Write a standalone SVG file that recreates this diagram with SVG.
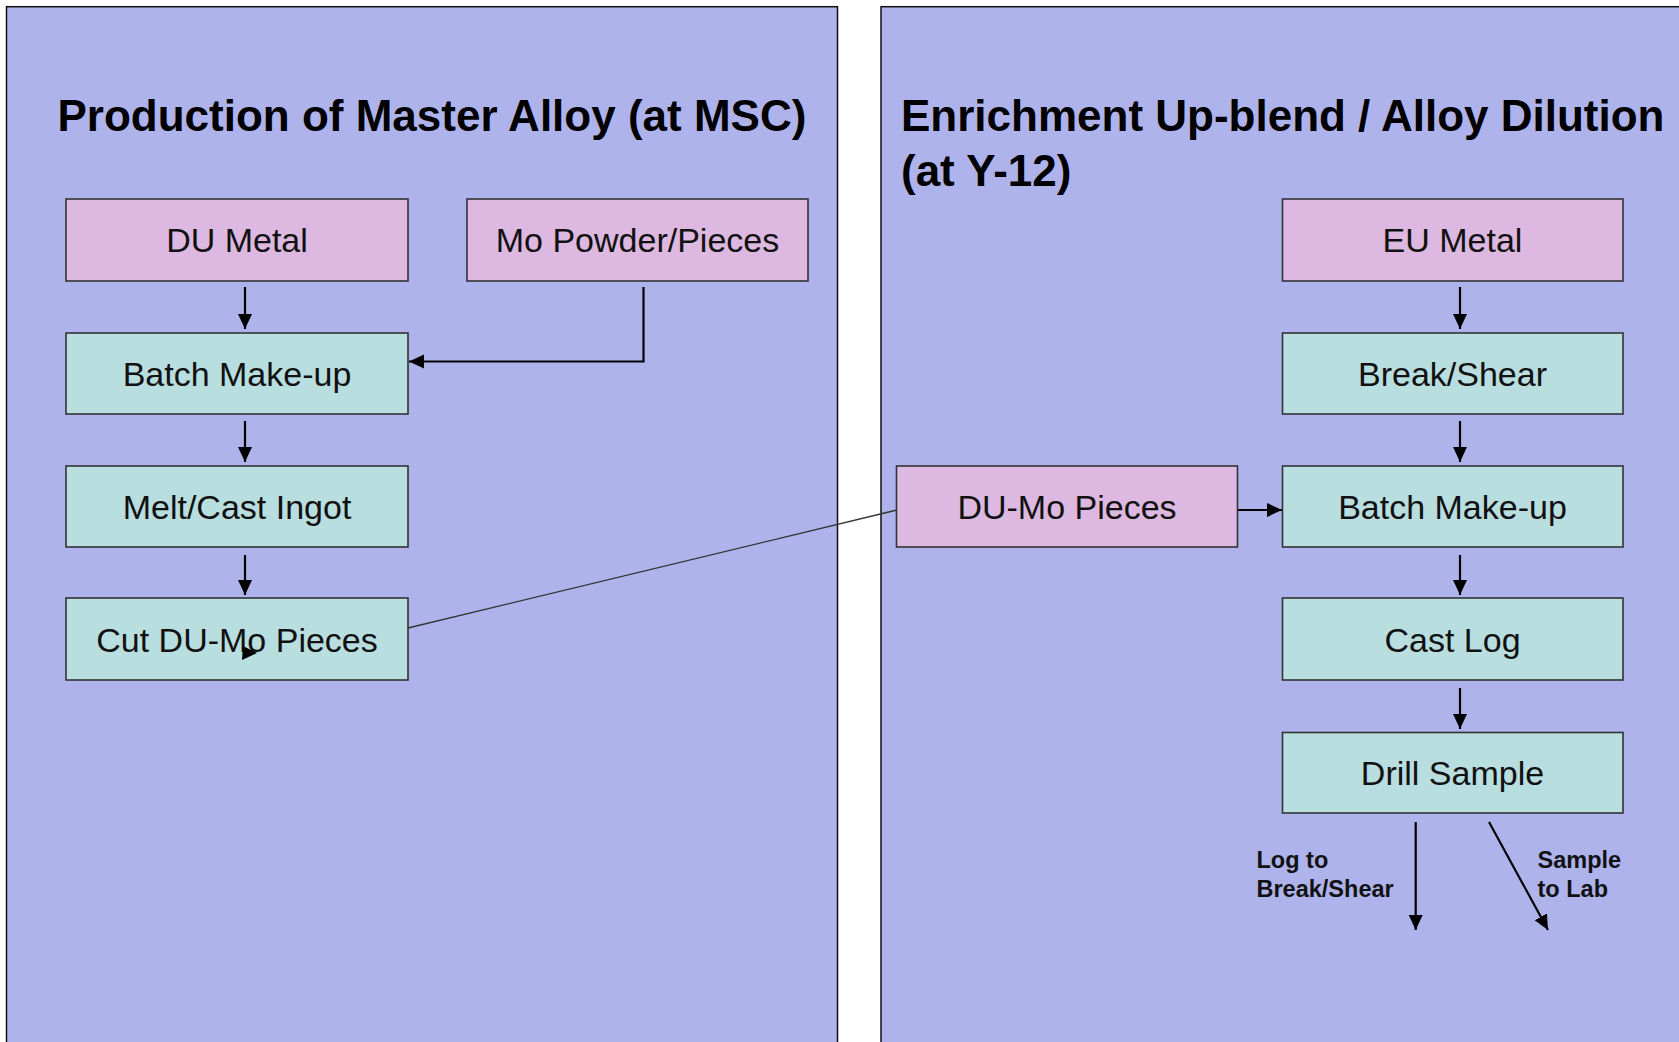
<svg xmlns="http://www.w3.org/2000/svg" width="1679" height="1042" viewBox="0 0 1679 1042">
<defs>
<style>
.panel{fill:#AEB3EC;stroke:#111;stroke-width:1.5}
.pink{fill:#DDB8E0;stroke:#333;stroke-width:1.6}
.teal{fill:#B8DEE0;stroke:#333;stroke-width:1.6}
.lbl{font-family:"Liberation Sans",Arial,sans-serif;font-size:34px;fill:#111;text-anchor:middle}
.title{font-family:"Liberation Sans",Arial,sans-serif;font-size:44px;font-weight:bold;fill:#000}
.small{font-family:"Liberation Sans",Arial,sans-serif;font-size:23.5px;font-weight:bold;fill:#111}
.arr{fill:none;stroke:#000;stroke-width:2.2;marker-end:url(#ah)}
.thin{fill:none;stroke:#333;stroke-width:1.3}
</style>
<marker id="ah" markerUnits="userSpaceOnUse" markerWidth="17" markerHeight="15" refX="15" refY="7" orient="auto">
<path d="M0,0 L15,7 L0,14 z" fill="#000"/>
</marker>
</defs>
<rect width="1679" height="1042" fill="#FFFFFF"/>
<g id="panel-left">
<rect class="panel" x="6.5" y="6.7" width="831" height="1050"/>
<text class="title" x="57.5" y="131">Production of Master Alloy (at MSC)</text>
</g>
<g id="panel-right">
<rect class="panel" x="881" y="6.7" width="820" height="1050"/>
<text class="title" x="901" y="131">Enrichment Up-blend / Alloy Dilution</text>
<text class="title" x="901" y="186">(at Y-12)</text>
</g>
<g id="connectors">
<line class="arr" x1="245" y1="287" x2="245" y2="329"/>
<polyline class="arr" points="643.5,287 643.5,361.5 409,361.5"/>
<line class="arr" x1="245" y1="421" x2="245" y2="462"/>
<line class="arr" x1="245" y1="555" x2="245" y2="595"/>
<line class="thin" x1="408" y1="628" x2="897" y2="510"/>
<line class="arr" x1="1460" y1="287" x2="1460" y2="329"/>
<line class="arr" x1="1460" y1="421" x2="1460" y2="462"/>
<line class="arr" x1="1238" y1="510" x2="1282" y2="510"/>
<line class="arr" x1="1460" y1="555" x2="1460" y2="595"/>
<line class="arr" x1="1460" y1="688" x2="1460" y2="729"/>
<line class="arr" x1="1415.7" y1="822" x2="1415.7" y2="930"/>
<line class="arr" x1="1489" y1="822" x2="1548" y2="930"/>
</g>
<g id="node-du-metal">
<rect class="pink" x="66" y="199" width="342" height="82"/>
<text class="lbl" x="237" y="252">DU Metal</text>
</g>
<g id="node-mo-powder">
<rect class="pink" x="467" y="199" width="341" height="82"/>
<text class="lbl" x="637.5" y="252">Mo Powder/Pieces</text>
</g>
<g id="node-batch-left">
<rect class="teal" x="66" y="333" width="342" height="81"/>
<text class="lbl" x="237" y="386">Batch Make-up</text>
</g>
<g id="node-melt">
<rect class="teal" x="66" y="466" width="342" height="81"/>
<text class="lbl" x="237" y="519">Melt/Cast Ingot</text>
</g>
<g id="node-cut">
<rect class="teal" x="66" y="598" width="342" height="82"/>
<text class="lbl" x="237" y="652">Cut DU-Mo Pieces</text>
</g>
<g id="stray-arrowhead">
<polygon points="243,646 257,653 242,660" fill="#000"/>
</g>
<g id="node-eu-metal">
<rect class="pink" x="1282.5" y="199" width="340.5" height="82"/>
<text class="lbl" x="1452.5" y="252">EU Metal</text>
</g>
<g id="node-break-shear">
<rect class="teal" x="1282.5" y="333" width="340.5" height="81"/>
<text class="lbl" x="1452.5" y="386">Break/Shear</text>
</g>
<g id="node-du-mo">
<rect class="pink" x="896.5" y="466" width="341" height="81"/>
<text class="lbl" x="1067" y="519">DU-Mo Pieces</text>
</g>
<g id="node-batch-right">
<rect class="teal" x="1282.5" y="466" width="340.5" height="81"/>
<text class="lbl" x="1452.5" y="519">Batch Make-up</text>
</g>
<g id="node-cast-log">
<rect class="teal" x="1282.5" y="598" width="340.5" height="82"/>
<text class="lbl" x="1452.5" y="652">Cast Log</text>
</g>
<g id="node-drill">
<rect class="teal" x="1282.5" y="732.5" width="340.5" height="80.5"/>
<text class="lbl" x="1452.5" y="785">Drill Sample</text>
</g>
<g id="labels">
<text class="small" x="1256.5" y="868">Log to</text>
<text class="small" x="1256.5" y="897">Break/Shear</text>
<text class="small" x="1537.5" y="868">Sample</text>
<text class="small" x="1537.5" y="897">to Lab</text>
</g>
</svg>
